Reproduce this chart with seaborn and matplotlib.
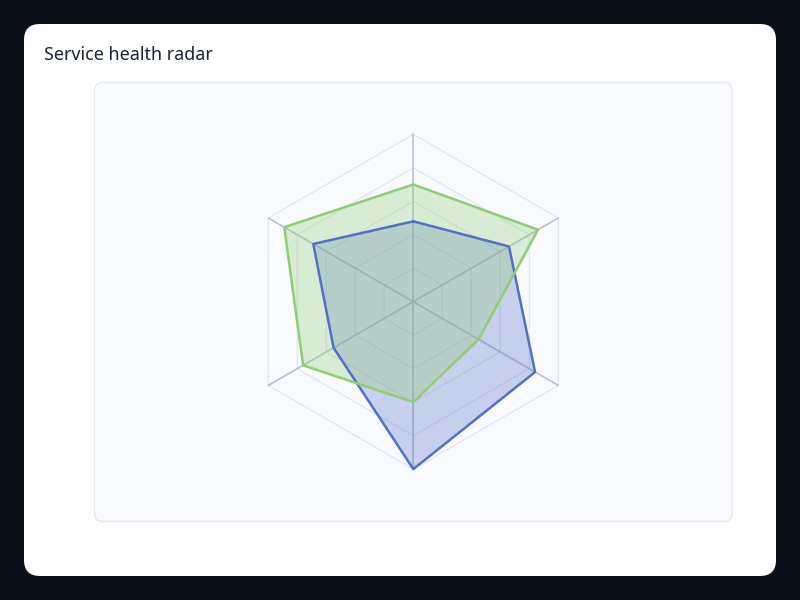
import numpy as np
import matplotlib
matplotlib.use("Agg")
import matplotlib.pyplot as plt
from matplotlib.patches import FancyBboxPatch
import seaborn as sns

# ---- data (axes counter-clockwise starting at top) ----
indicators = ["A", "B", "C", "D", "E", "F"]
series_names = ["Series 1", "Series 2"]
blue_values = [48, 69, 55, 100, 84, 66]
green_values = [70, 89, 76, 60, 45, 86]
max_value = 100
ring_levels = [20, 40, 60, 80, 100]

sns.set_theme(style="white")
plt.rcParams["font.family"] = ["Noto Sans", "DejaVu Sans"]

W, H = 800, 600
fig = plt.figure(figsize=(8, 6), dpi=100)
fig.patch.set_facecolor("#0b0f19")

bg = fig.add_axes([0, 0, 1, 1])
bg.set_xlim(0, W)
bg.set_ylim(H, 0)
bg.axis("off")
bg.add_patch(FancyBboxPatch((24, 24), 752, 552, boxstyle="round,pad=0,rounding_size=16",
                            facecolor="white", edgecolor="none"))
bg.add_patch(FancyBboxPatch((94.5, 82.5), 637.5, 439, boxstyle="round,pad=0,rounding_size=8",
                            facecolor="#f8fafe", edgecolor="#e6e9f0", linewidth=1))
bg.text(44, 55, "Service health radar", fontsize=12.9, color="#1c2333", va="center", ha="left")

cx, cy, R = 413.3, 301.7, 167.4
ax = fig.add_axes([(cx - R) / W, (H - cy - R) / H, 2 * R / W, 2 * R / H], projection="polar")
ax.set_facecolor("none")
ax.set_theta_offset(np.pi / 2)
ax.set_ylim(0, max_value)
ax.grid(False)
ax.spines["polar"].set_visible(False)
ax.set_xticks([])
ax.set_yticks([])

n = len(indicators)
theta = np.arange(n) * 2 * np.pi / n
theta_c = np.append(theta, theta[0])

for lvl in ring_levels:
    ax.plot(theta_c, [lvl] * (n + 1), color="#e3e7ef", lw=1, clip_on=False, zorder=1)
for t in theta:
    ax.plot([t, t], [0, max_value], color="#b9c2d3", lw=1.2, clip_on=False, zorder=1)

palette = ["#5470c6", "#91cc75"]
for vals, col in [(blue_values, palette[0]), (green_values, palette[1])]:
    v = np.append(vals, vals[0])
    ax.fill(theta_c, v, color=col, alpha=0.3, lw=0, clip_on=False, zorder=2)
    ax.plot(theta_c, v, color=col, lw=1.8, clip_on=False, zorder=3)

fig.savefig("out.png", dpi=100, facecolor=fig.get_facecolor())
